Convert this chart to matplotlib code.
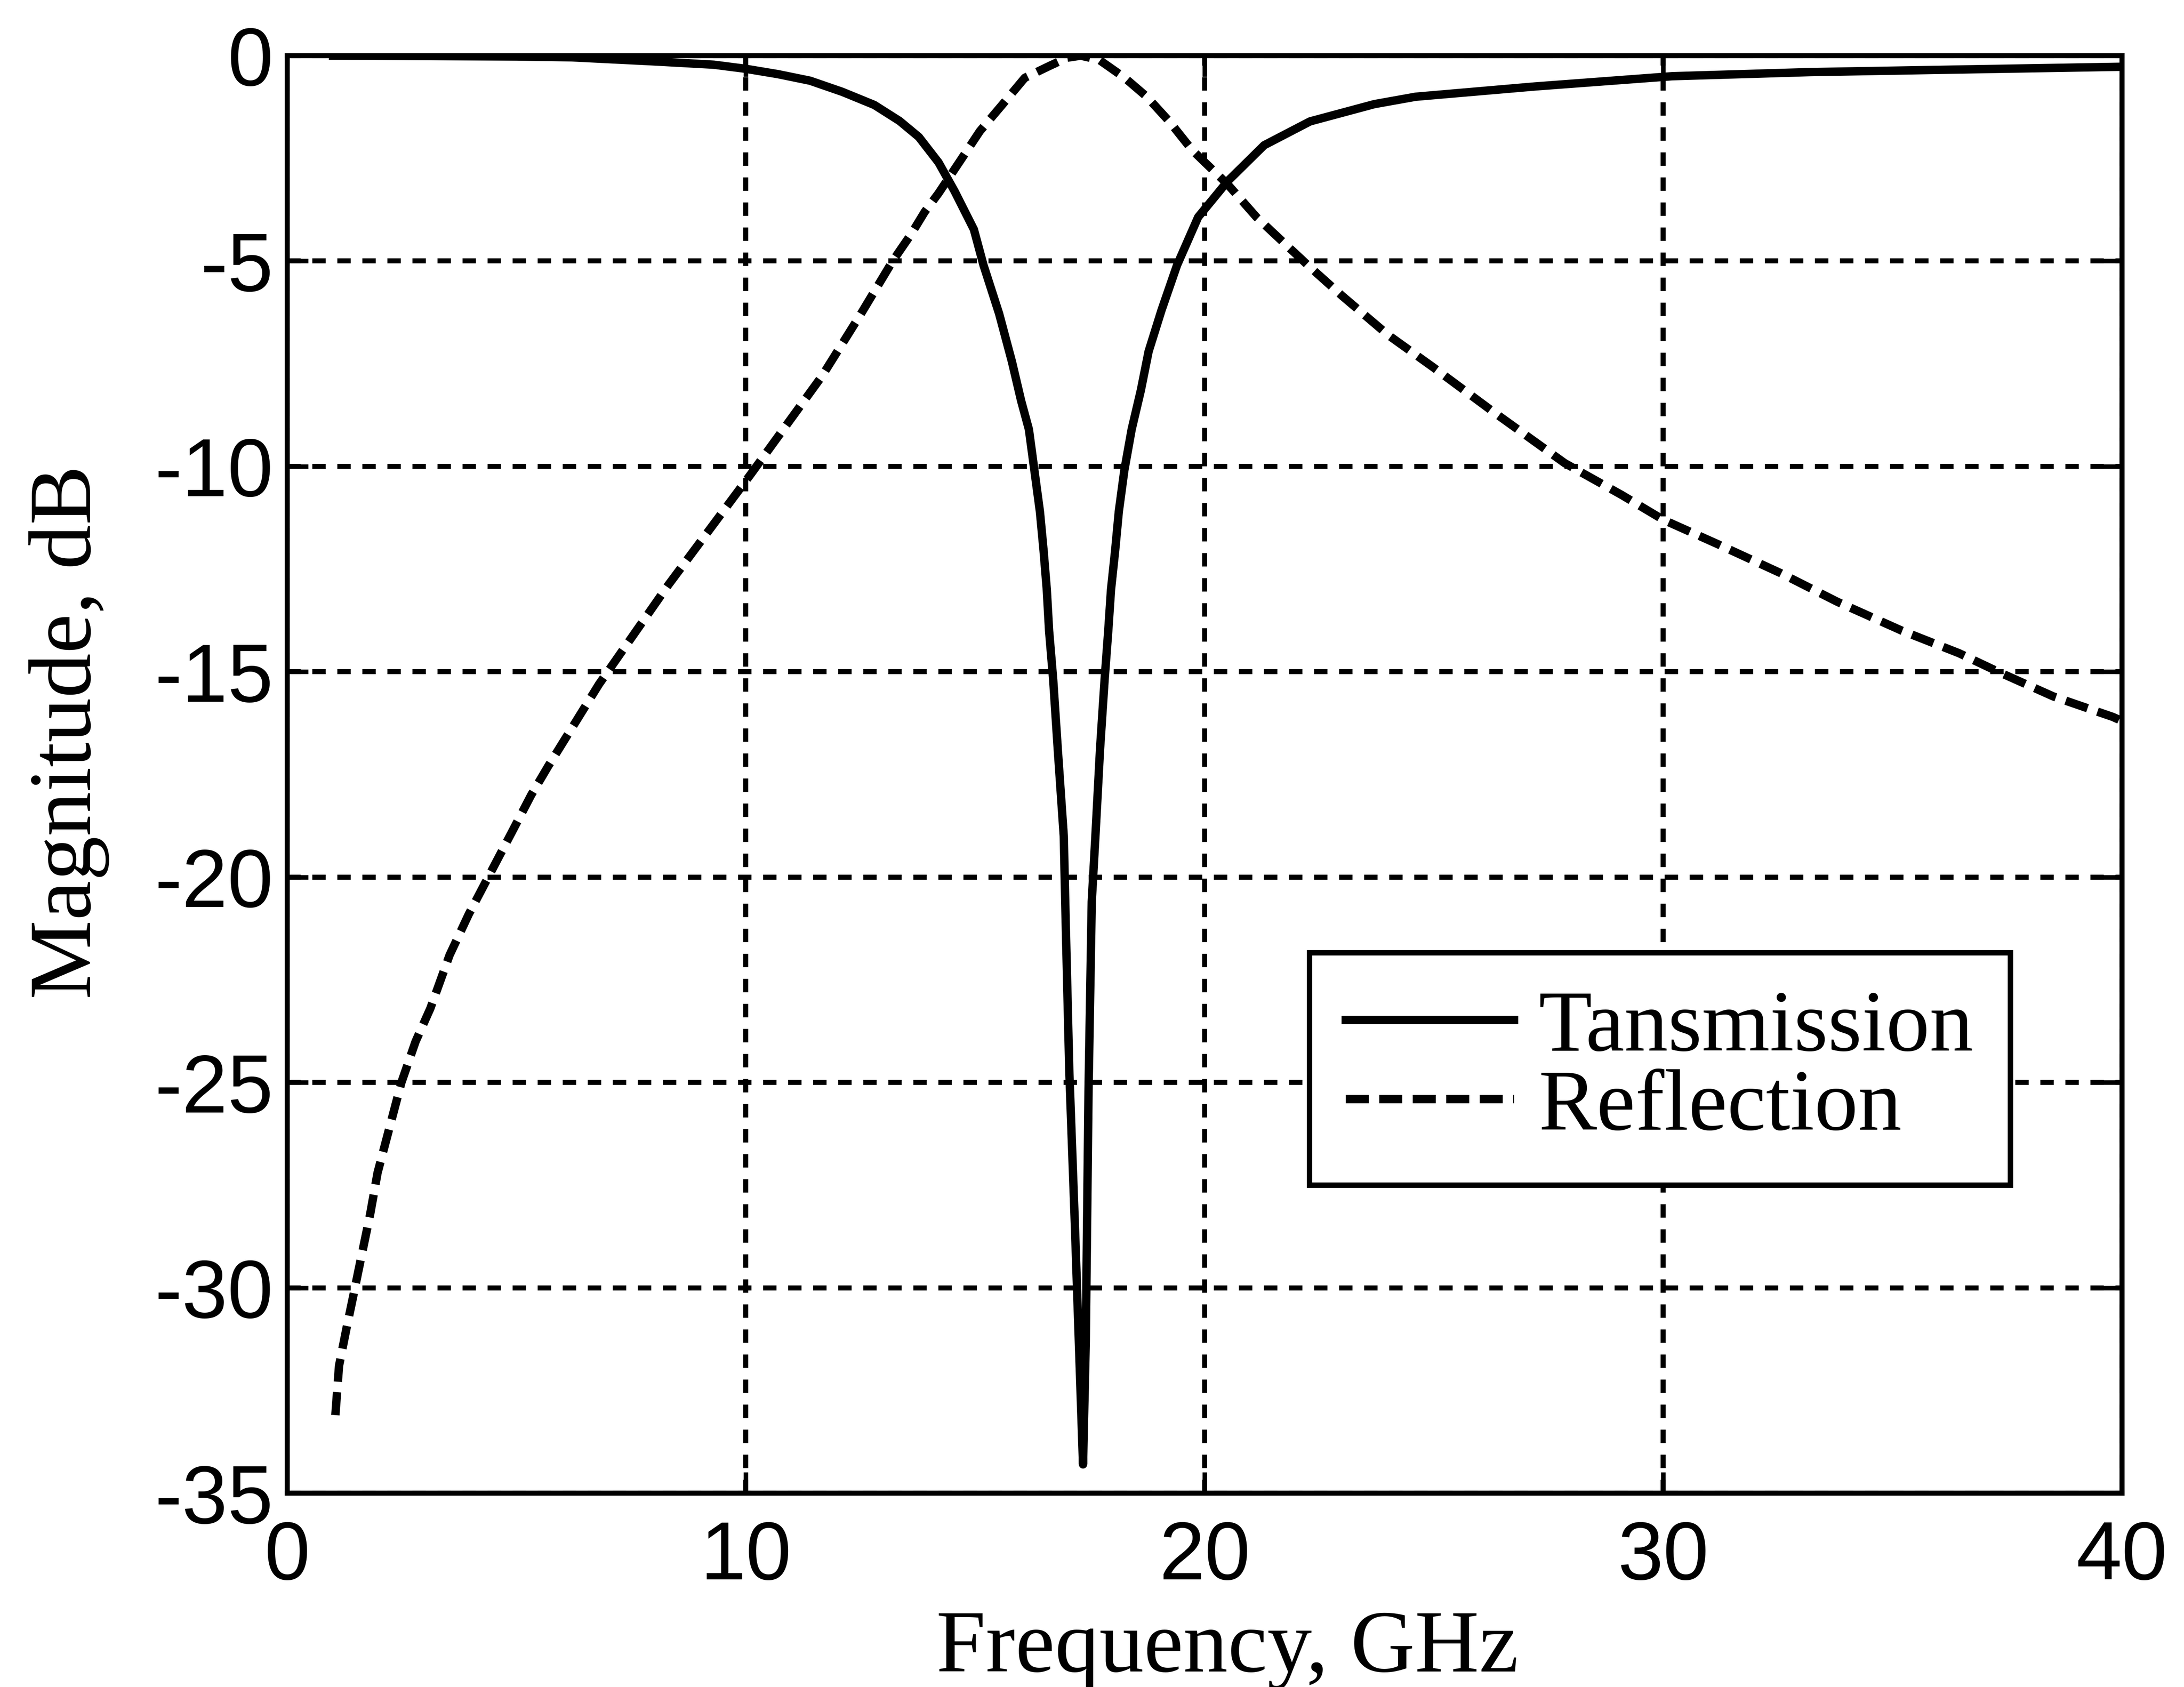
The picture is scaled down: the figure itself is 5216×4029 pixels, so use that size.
import numpy as np
import matplotlib
matplotlib.use('Agg')
import matplotlib.pyplot as plt

plt.rcParams['axes.unicode_minus'] = False

# transmission through the filter, dB
freq_t = [1.0, 3.0, 5.0, 6.2, 8.0, 9.3, 10.0, 10.7, 11.4, 12.1, 12.8, 13.35,
          13.77, 14.2, 14.55, 14.97, 15.18, 15.52, 15.8, 16.0, 16.17, 16.29,
          16.41, 16.49, 16.56, 16.61, 16.7, 16.8, 16.93, 16.97, 17.05, 17.17,
          17.28, 17.35, 17.41, 17.47, 17.54, 17.62, 17.72, 17.82, 17.9, 17.96,
          18.05, 18.13, 18.25, 18.41, 18.61, 18.78, 19.06, 19.4, 19.86, 20.5,
          21.3, 22.3, 23.7, 24.6, 27.2, 30.2, 33.2, 36.3, 40.0]
trans_db = [0.0, -0.01, -0.02, -0.04, -0.14, -0.22, -0.32, -0.45, -0.61, -0.88,
            -1.2, -1.59, -1.98, -2.6, -3.3, -4.23, -5.1, -6.28, -7.45, -8.4,
            -9.1, -10.1, -11.1, -12.05, -13.0, -14.0, -15.2, -16.9, -19.0,
            -21.0, -24.7, -28.4, -32.0, -34.3, -31.3, -25.2, -20.6, -19.0,
            -16.9, -15.2, -14.0, -13.0, -12.05, -11.1, -10.1, -9.1, -8.15,
            -7.2, -6.2, -5.1, -3.93, -3.06, -2.18, -1.6, -1.18, -1.0, -0.75,
            -0.5, -0.4, -0.34, -0.27]

# reflection, dB
freq_r = [1.05, 1.13, 1.29, 1.44, 1.55, 1.81, 1.97, 2.23, 2.49, 2.8, 3.12,
          3.54, 3.96, 4.43, 4.9, 5.32, 5.69, 6.8, 8.3, 10.1, 11.66, 12.5, 13.2,
          13.6, 13.9, 14.2, 14.69, 15.1, 15.6, 16.08, 16.58, 17.0, 17.3, 17.7,
          18.26, 18.74, 19.23, 19.73, 20.5, 21.13, 22.25, 23.0, 24.0, 25.0,
          26.28, 27.85, 29.1, 30.0, 31.2, 32.56, 33.8, 35.2, 36.45, 37.3,
          38.5, 39.8, 40.0]
refl_db = [-33.1, -31.9, -31.0, -30.2, -29.6, -28.2, -27.2, -26.1, -25.0,
           -24.0, -23.2, -21.9, -20.9, -19.9, -18.9, -18.0, -17.3, -15.3,
           -12.9, -10.2, -7.8, -6.3, -5.0, -4.35, -3.8, -3.35, -2.53, -1.84,
           -1.18, -0.54, -0.27, -0.05, 0.0, -0.1, -0.54, -1.0, -1.6, -2.3,
           -3.13, -3.93, -5.1, -5.85, -6.8, -7.6, -8.66, -9.92, -10.7, -11.3,
           -11.9, -12.6, -13.3, -14.0, -14.55, -15.0, -15.6, -16.1, -16.2]

x_ticks = [0, 10, 20, 30, 40]
y_ticks = [0, -5, -10, -15, -20, -25, -30, -35]

fig = plt.figure(figsize=(5216 / 300, 4029 / 300), dpi=300)
ax = fig.add_axes([0.1315, 0.1149, 0.8401, 0.8521])

ax.plot(freq_t, trans_db, color='black', lw=4.8, linestyle='-',
        label='Tansmission')
ax.plot(freq_r, refl_db, color='black', lw=4.8, linestyle=(0, (2.75, 1.25)),
        label='Reflection')

ax.set_xlim(0, 40)
ax.set_ylim(-35, 0)
ax.set_xticks(x_ticks)
ax.set_yticks(y_ticks)
ax.set_xticklabels([str(v) for v in x_ticks])
ax.set_yticklabels([str(v) for v in y_ticks])

ax.grid(True, color='black', lw=2.9, linestyle=(0, (2.65, 2.3)))
for s in ax.spines.values():
    s.set_linewidth(2.9)
ax.tick_params(direction='in', length=12, width=2.6, top=True, right=True)
ax.tick_params(axis='x', pad=15)
ax.tick_params(axis='y', pad=8)
for lab in ax.get_xticklabels() + ax.get_yticklabels():
    lab.set_fontfamily('Liberation Sans')
    lab.set_fontsize(47)

leg = ax.legend(loc='upper left', bbox_to_anchor=(0.557, 0.376),
                borderaxespad=0, frameon=True, fancybox=False, framealpha=1,
                prop={'family': 'Liberation Serif', 'size': 50},
                handlelength=1.93, handletextpad=0.28, labelspacing=0.0,
                borderpad=0.42)
leg.get_frame().set_edgecolor('black')
leg.get_frame().set_linewidth(3.1)

fig.text(0.562, 0.0094, 'Frequency, GHz', ha='center', va='baseline',
         family='Liberation Serif', fontsize=51)
fig.text(217 / 5216, 0.566, 'Magnitude, dB', ha='center', va='baseline',
         rotation=90, rotation_mode='anchor',
         family='Liberation Serif', fontsize=51)

fig.savefig('out.png', dpi=300, facecolor='white')
